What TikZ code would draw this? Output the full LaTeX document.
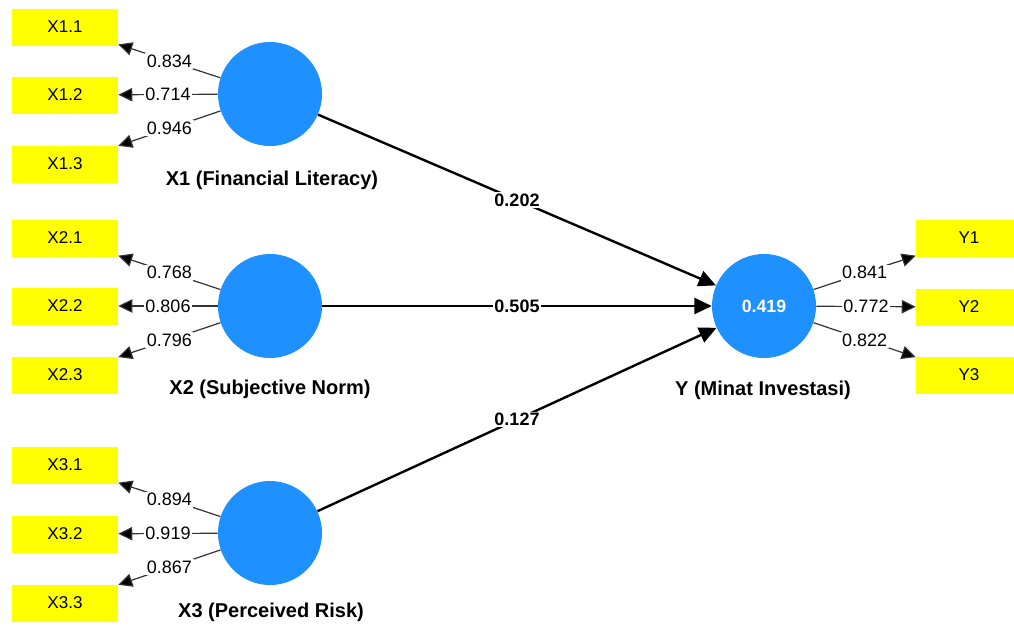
\documentclass[tikz,border=0pt]{standalone}
\usepackage{fontspec}
\setmainfont{Liberation Sans}
\usetikzlibrary{arrows.meta}
\definecolor{lvblue}{RGB}{30,144,255}
\definecolor{mvyellow}{RGB}{255,255,0}
\begin{document}
\begin{tikzpicture}[x=0.75pt,y=-0.75pt,
 lv/.style={circle,fill=lvblue,draw=none,minimum size=78pt,inner sep=0pt,text=white,font=\bfseries\fontsize{13.3}{15}\selectfont},
 mv/.style={rectangle,fill=mvyellow,draw=none,minimum width=79.5pt,minimum height=27.75pt,inner sep=0pt,font=\fontsize{12.8}{14}\selectfont},
 lvlabel/.style={font=\bfseries\fontsize{15}{18}\selectfont,inner sep=0pt},
 load/.style={draw=black!80,line width=0.9pt,-{Triangle[length=10.5pt,width=10pt,fill=black]}},
 strpath/.style={draw=black,line width=1.8pt,-{Triangle[length=13pt,width=12pt]}},
 loadlab/.style={fill=white,inner sep=1.2pt,text=black,font=\fontsize{13.5}{15}\selectfont},
 pathlab/.style={fill=white,inner sep=1.2pt,text=black,font=\bfseries\fontsize{13.5}{15}\selectfont}]
\clip (0,0) rectangle (1014,629);
\fill[white] (0,0) rectangle (1014,629);
% latent variables
\node[lv] (X1) at (270,94) {};
\node[lv] (X2) at (270,306) {};
\node[lv] (X3) at (270,533) {};
\node[lv] (Y) at (764,306) {0.419};
% indicators
\node[mv] (x11) at (65,27) {X1.1};
\node[mv] (x12) at (65,95) {X1.2};
\node[mv] (x13) at (65,164) {X1.3};
\node[mv] (x21) at (65,238) {X2.1};
\node[mv] (x22) at (65,306) {X2.2};
\node[mv] (x23) at (65,375) {X2.3};
\node[mv] (x31) at (65,465) {X3.1};
\node[mv] (x32) at (65,534) {X3.2};
\node[mv] (x33) at (65,603) {X3.3};
\node[mv] (y1) at (969,238) {Y1};
\node[mv] (y2) at (969,307) {Y2};
\node[mv] (y3) at (969,375) {Y3};
% labels
\node[lvlabel] (lX1) at (272,180) {X1 (Financial Literacy)};
\node[lvlabel] (lX2) at (270,389) {X2 (Subjective Norm)};
\node[lvlabel] (lX3) at (271,612) {X3 (Perceived Risk)};
\node[lvlabel] (lY) at (763,390) {Y (Minat Investasi)};
% outer loadings
\draw[load] (X1) -- node[loadlab] {0.834} (x11);
\draw[load] (X1) -- node[loadlab] {0.714} (x12);
\draw[load] (X1) -- node[loadlab] {0.946} (x13);
\draw[load] (X2) -- node[loadlab] {0.768} (x21);
\draw[load] (X2) -- node[loadlab] {0.806} (x22);
\draw[load] (X2) -- node[loadlab] {0.796} (x23);
\draw[load] (X3) -- node[loadlab] {0.894} (x31);
\draw[load] (X3) -- node[loadlab] {0.919} (x32);
\draw[load] (X3) -- node[loadlab] {0.867} (x33);
\draw[load] (Y) -- node[loadlab] {0.841} (y1);
\draw[load] (Y) -- node[loadlab] {0.772} (y2);
\draw[load] (Y) -- node[loadlab] {0.822} (y3);
% path coefficients
\draw[strpath] (X1) -- node[pathlab] {0.202} (Y);
\draw[strpath] (X2) -- node[pathlab] {0.505} (Y);
\draw[strpath] (X3) -- node[pathlab] {0.127} (Y);
\end{tikzpicture}
\end{document}
